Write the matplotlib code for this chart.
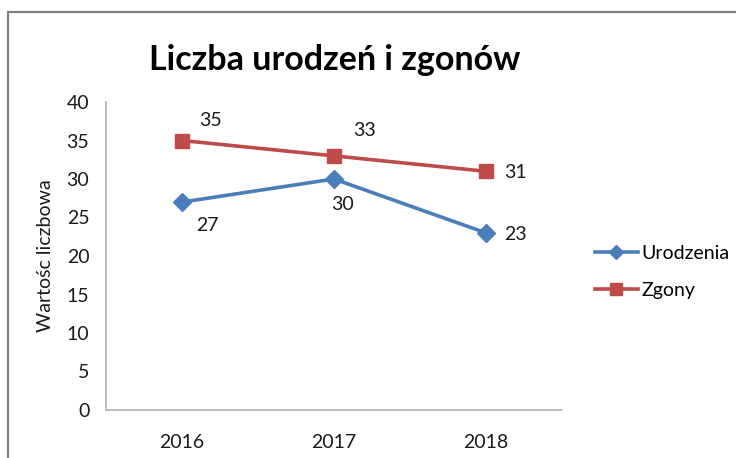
import matplotlib
matplotlib.use("Agg")
import matplotlib.pyplot as plt
from matplotlib.patches import Rectangle

years = ["2016", "2017", "2018"]
urodzenia = [27, 30, 23]
zgony = [35, 33, 31]
yticks = [0, 5, 10, 15, 20, 25, 30, 35, 40]

title = "Liczba urodzeń i zgonów"
ylabel = "Wartośc liczbowa"

plt.rcParams['font.family'] = ['Lato', 'DejaVu Sans']

fig = plt.figure(figsize=(7.36, 4.58), dpi=100)
ax = fig.add_axes([106/736, 1-410/458, 456/736, 308/458])

blue = "#4A7EBB"
red = "#BE4B48"
x = list(range(len(years)))
fs = 14

l1, = ax.plot(x, urodzenia, color=blue, lw=2.6, marker="D", ms=9.5, label="Urodzenia")
l2, = ax.plot(x, zgony, color=red, lw=2.6, marker="s", ms=10, label="Zgony")

u_off = [(25, -23), (8, -26), (29, -2)]
z_off = [(28, 20), (30, 25), (29, -1)]
for xi, v, o in zip(x, urodzenia, u_off):
    ax.annotate(str(v), (xi, v), xytext=(o[0]*0.72, o[1]*0.72), textcoords="offset points",
                ha="center", va="center", fontsize=fs, color="#1a1a1a")
for xi, v, o in zip(x, zgony, z_off):
    ax.annotate(str(v), (xi, v), xytext=(o[0]*0.72, o[1]*0.72), textcoords="offset points",
                ha="center", va="center", fontsize=fs, color="#1a1a1a")

ax.set_xlim(-0.5, 2.5)
ax.set_ylim(0, 40)
ax.set_yticks(yticks)
ax.set_xticks(x)
ax.set_xticklabels(years)
ax.tick_params(axis="both", length=0, labelsize=fs, labelcolor="#1a1a1a")
ax.tick_params(axis="x", pad=17)
ax.tick_params(axis="y", pad=12)
for s in ["top", "right"]:
    ax.spines[s].set_visible(False)
for s in ["left", "bottom"]:
    ax.spines[s].set_color("#b3b3b3")
    ax.spines[s].set_linewidth(1.2)

ax.set_ylabel(ylabel, fontsize=fs, color="#1a1a1a", labelpad=9)
fig.text(335/736, 1-60/458, title, fontsize=24.5, fontweight="bold", ha="center", va="center", color="black")

leg = fig.legend(handles=[l1, l2], loc="center left", bbox_to_anchor=(595/736, 1-272/458),
                 frameon=False, fontsize=fs, handlelength=2.2, labelspacing=1.0,
                 handletextpad=0.2, markerscale=0.8, borderpad=0, borderaxespad=0)

fig.patches.append(Rectangle((8/736, -0.1), 1.0, 1-12/458+0.1, transform=fig.transFigure,
                             fill=False, edgecolor="#808080", lw=1.6, clip_on=False))

fig.savefig("out.png", dpi=100)
